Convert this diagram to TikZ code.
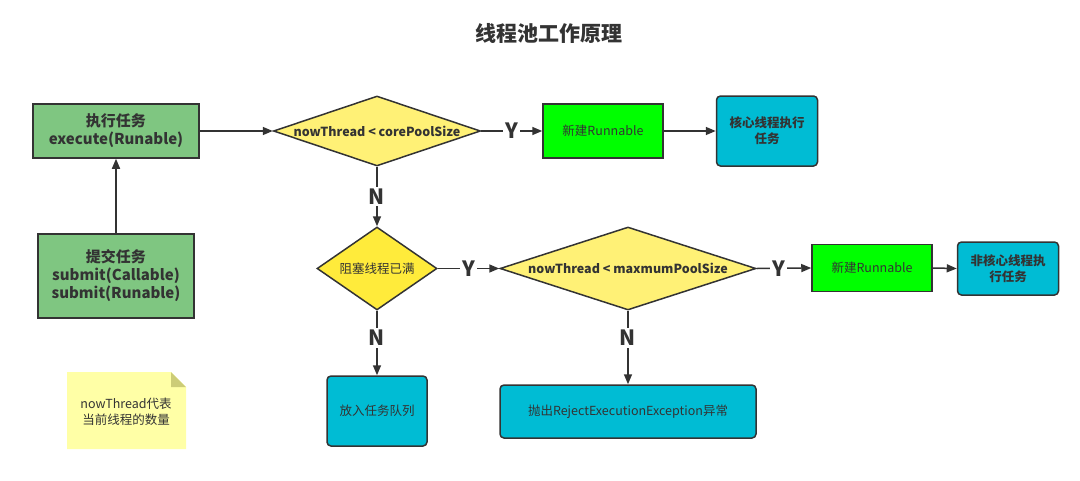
\documentclass[tikz,border=0pt]{standalone}
\usepackage{fontspec}
\setmainfont{Noto Sans CJK SC}
\usetikzlibrary{shapes.geometric,arrows.meta}
\definecolor{ink}{HTML}{333333}
\definecolor{gfill}{HTML}{7FC681}
\definecolor{lime}{HTML}{00FF00}
\definecolor{cyanbox}{HTML}{00BCD4}
\definecolor{ylight}{HTML}{FFF176}
\definecolor{ystrong}{HTML}{FFEB3B}
\definecolor{notefill}{HTML}{FFFFA6}
\definecolor{notefold}{HTML}{CCCC77}
\begin{document}
\begin{tikzpicture}[x=1pt,y=-1pt,
  base/.style={draw=ink, line width=1.5pt, text=ink, align=center, inner sep=0pt},
  gbox/.style={base, fill=gfill, font=\fontsize{15}{18}\selectfont\bfseries},
  limebox/.style={base, fill=lime, font=\fontsize{12.5}{15}\selectfont},
  cbox/.style={base, fill=cyanbox, rounded corners=4pt, font=\fontsize{12.5}{16}\selectfont\bfseries},
  qbox/.style={base, fill=cyanbox, rounded corners=4pt, font=\fontsize{12.5}{16}\selectfont},
  dia/.style={base, diamond, inner sep=0pt},
  dtext/.style={text=ink, inner sep=0pt, font=\fontsize{12.5}{15}\selectfont\bfseries},
  arr/.style={draw=ink, line width=1.5pt, -{Triangle[length=10pt,width=8pt]}},
  yn/.style={fill=white, text=ink, inner sep=2pt, font=\fontsize{21}{24}\selectfont\bfseries},
]
\useasboundingbox (0,0) rectangle (1080,480);

\node[text=ink, font=\fontsize{21}{24}\selectfont\bfseries] (title) at (549,33) {线程池工作原理};

\node[gbox, minimum width=166pt, minimum height=54pt] (exec) at (116,131) {执行任务\\execute(Runable)};
\node[gbox, minimum width=156pt, minimum height=84pt] (submit) at (116,276) {提交任务\\submit(Callable)\\submit(Runable)};

\node[dia, fill=ylight, minimum width=207pt, minimum height=70pt] (d1) at (377,131) {};
\node[dtext] (d1t) at (d1.center) {nowThread < corePoolSize};

\node[limebox, minimum width=120pt, minimum height=54pt] (new1) at (603,131) {新建Runnable};
\node[cbox, minimum width=101pt, minimum height=70pt] (core) at (767,131) {核心线程执行\\任务};

\node[dia, fill=ystrong, minimum width=120pt, minimum height=83pt] (d2) at (377,268.5) {};
\node[text=ink, inner sep=0pt, font=\fontsize{12.5}{15}\selectfont] (d2t) at (d2.center) {阻塞线程已满};

\node[dia, fill=ylight, minimum width=256pt, minimum height=83pt] (d3) at (628,268.5) {};
\node[dtext] (d3t) at (d3.center) {nowThread < maxmumPoolSize};

\node[limebox, minimum width=120pt, minimum height=47pt] (new2) at (872,268) {新建Runnable};
\node[cbox, minimum width=101pt, minimum height=53pt] (noncore) at (1008,268.5) {非核心线程执\\行任务};

\node[qbox, minimum width=100pt, minimum height=70pt] (queue) at (377,411) {放入任务队列};
\node[qbox, minimum width=256pt, minimum height=53pt] (reject) at (628,411.5) {抛出RejectExecutionException异常};

% note
\fill[notefill] (67,372) -- (171,372) -- (186,387) -- (186,449) -- (67,449) -- cycle;
\fill[notefold] (171,372) -- (186,387) -- (171,387) -- cycle;
\node[text=ink, align=center, inner sep=0pt, font=\fontsize{12.5}{16}\selectfont] (note) at (126,412) {nowThread代表\\当前线程的数量};

\draw[arr] (submit.north) -- (exec.south);
\draw[arr] (exec.east) -- (d1.west);
\draw[arr] (d1.east) -- node[yn]{Y} (new1.west);
\draw[arr] (new1.east) -- (core.west);
\draw[arr] (d1.south) -- node[yn]{N} (d2.north);
\draw[arr] (d2.east) -- node[yn]{Y} (d3.west);
\draw[arr] (d3.east) -- node[yn,pos=0.4]{Y} (new2.west);
\draw[arr] (new2.east) -- (noncore.west);
\draw[arr] (d2.south) -- node[yn,pos=0.42]{N} (queue.north);
\draw[arr] (d3.south) -- node[yn,pos=0.37]{N} (reject.north);
\end{tikzpicture}
\end{document}
